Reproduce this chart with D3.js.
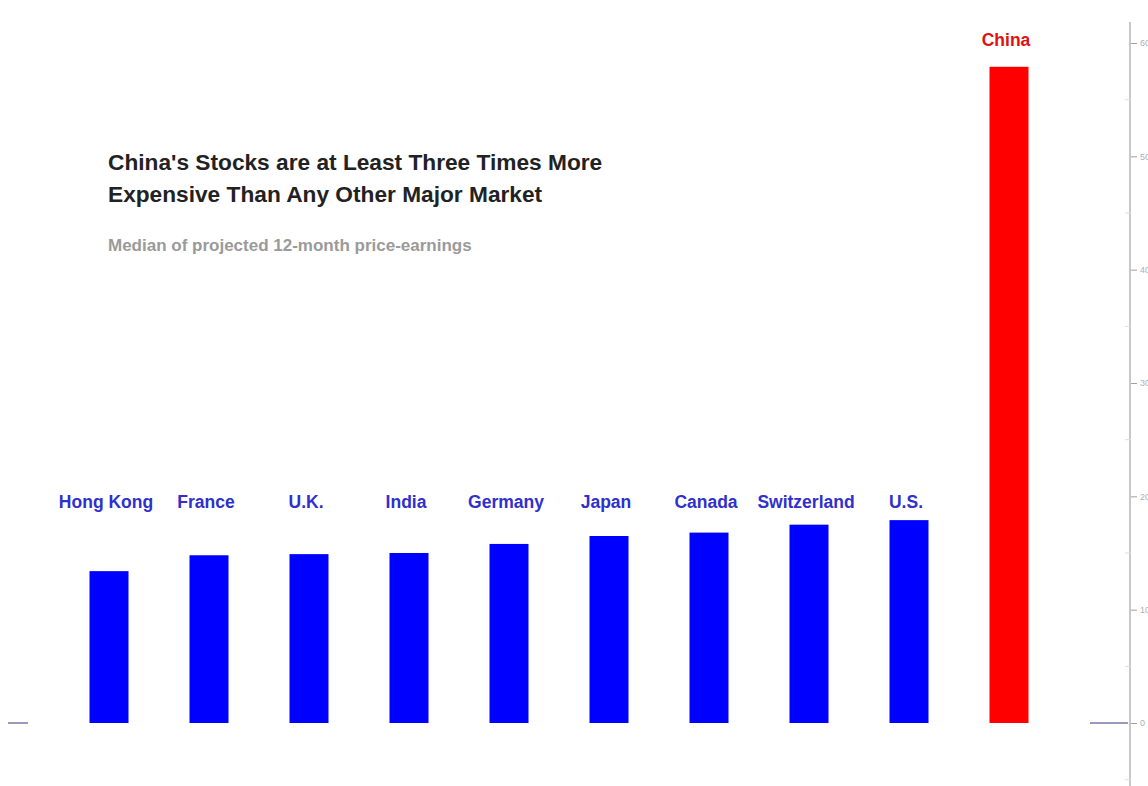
<!DOCTYPE html>
<html>
<head>
<meta charset="utf-8">
<script src="https://cdn.jsdelivr.net/npm/d3@7"></script>
<style>
  body { margin: 0; background: #fff; }
  text { font-family: "Liberation Sans", Arial, sans-serif; }
</style>
</head>
<body>
<script>
// data
var countries = ['Hong Kong', 'France', 'U.K.', 'India', 'Germany', 'Japan', 'Canada', 'Switzerland', 'U.S.', 'China'];
var peValues = [13.4, 14.8, 14.9, 15.0, 15.8, 16.5, 16.8, 17.5, 17.9, 57.9];
var majorTicks = [0, 10, 20, 30, 40, 50, 60];
var minorTicks = [-5, 5, 15, 25, 35, 45, 55];
var titleLines = ["China's Stocks are at Least Three Times More", "Expensive Than Any Other Major Market"];
var subtitle = 'Median of projected 12-month price-earnings';

var screen = {width: 1148, height: 786};

var svg = d3.select('body').append('svg')
    .attr('width', screen.width)
    .attr('height', screen.height)
    .style('display', 'block');

// scales
var xScale = d3.scaleBand()
    .domain(countries)
    .range([59, 1059])
    .paddingInner(0.61)
    .paddingOuter(0.305);

var yScale = d3.scaleLinear()
    .domain([0, 60])
    .range([723, 43]);

var color = function(d) { return d == 'China' ? '#ff0000' : '#0000ff'; };

// right axis
svg.append('line')
    .attr('x1', 1130).attr('x2', 1130)
    .attr('y1', 22).attr('y2', screen.height)
    .attr('stroke', '#c8c8c8')
    .attr('stroke-width', 2);

var yAxis = d3.axisRight(yScale)
    .tickValues(majorTicks)
    .tickSize(6)
    .tickPadding(3);

var axisG = svg.append('g')
    .attr('transform', 'translate(1131,0)')
    .call(yAxis);
axisG.select('.domain').remove();
axisG.selectAll('line').attr('stroke', '#a0a0a0');
axisG.selectAll('text')
    .attr('fill', '#b0b0b0')
    .style('font-size', '9px')
    .style('font-family', '"Liberation Sans", Arial, sans-serif');

svg.append('g').selectAll('line')
    .data(minorTicks)
    .enter()
    .append('line')
    .attr('x1', 1125).attr('x2', 1131)
    .attr('y1', function(d) { return yScale(d); })
    .attr('y2', function(d) { return yScale(d); })
    .attr('stroke', '#ddd');

// zero stubs
svg.append('line')
    .attr('x1', 8).attr('x2', 28)
    .attr('y1', yScale(0)).attr('y2', yScale(0))
    .attr('stroke', '#9a9abf').attr('stroke-width', 2);
svg.append('line')
    .attr('x1', 1090).attr('x2', 1128)
    .attr('y1', yScale(0)).attr('y2', yScale(0))
    .attr('stroke', '#9a9abf').attr('stroke-width', 2);

// bars
svg.selectAll('rect.bar')
    .data(countries)
    .enter()
    .append('rect')
    .attr('class', 'bar')
    .attr('x', function(d) { return xScale(d); })
    .attr('y', function(d, i) { return yScale(peValues[i]); })
    .attr('width', xScale.bandwidth())
    .attr('height', function(d, i) { return yScale(0) - yScale(peValues[i]); })
    .attr('fill', color);

// labels
svg.selectAll('text.label')
    .data(countries)
    .enter()
    .append('text')
    .attr('class', 'label')
    .attr('text-anchor', 'middle')
    .attr('x', function(d) { return xScale(d) + xScale.bandwidth() / 2 - 3; })
    .attr('y', function(d, i) { return d == 'China' ? yScale(peValues[i]) - 21 : 508; })
    .attr('fill', function(d) { return d == 'China' ? '#e01010' : '#3030cc'; })
    .style('font-size', '17.5px')
    .style('font-weight', 'bold')
    .text(function(d) { return d; });

// title
svg.append('text')
    .attr('x', 108)
    .attr('y', 170)
    .attr('fill', '#222')
    .style('font-size', '22.7px')
    .style('font-weight', 'bold')
    .selectAll('tspan')
    .data(titleLines)
    .enter()
    .append('tspan')
    .attr('x', 108)
    .attr('dy', function(d, i) { return i == 0 ? 0 : 32; })
    .text(function(d) { return d; });

svg.append('text')
    .attr('x', 108)
    .attr('y', 251)
    .attr('fill', '#9a9a9a')
    .style('font-size', '17px')
    .style('font-weight', 'bold')
    .text(subtitle);
</script>
</body>
</html>
